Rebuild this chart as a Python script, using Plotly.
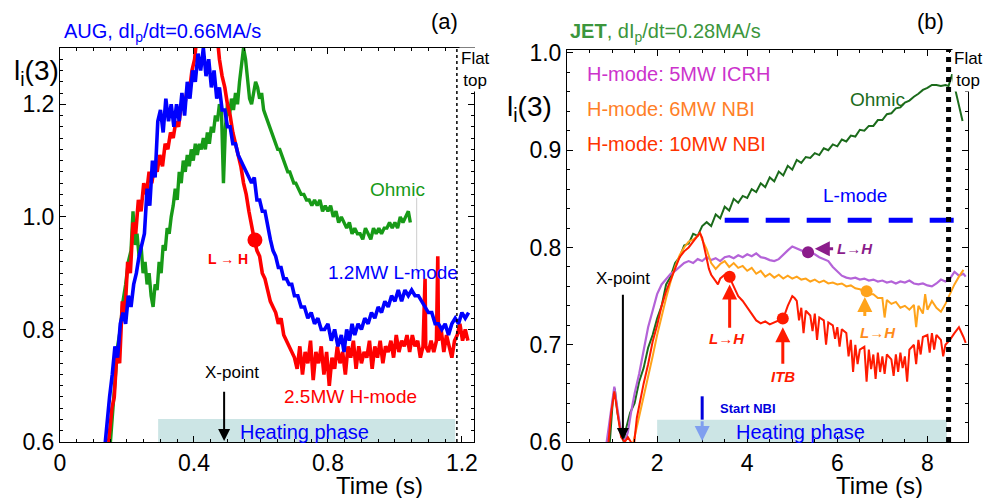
import plotly.graph_objects as go

# ---------------- Panel (a): AUG ----------------
aug_red_t = [0.140,0.145,0.155,0.162,0.170,0.178,0.186,0.194,0.202,0.210,0.218,0.226,0.234,0.242,0.250,0.258,0.266,0.274,0.282,0.290,0.298,0.306,0.314,0.322,0.330,0.338,0.346,0.354,0.362,0.370,0.378,0.386,0.394,0.402,0.410,0.440,0.468,0.476,0.484,0.492,0.500,0.508,0.516,0.524,0.532,0.540,0.548,0.556,0.564,0.572,0.580,0.588,0.596,0.604,0.612,0.620,0.628,0.636,0.644,0.652,0.660,0.668,0.676,0.684,0.692,0.700,0.708,0.716,0.724,0.732,0.740,0.748,0.756,0.764,0.772,0.780,0.788,0.796,0.804,0.812,0.820,0.828,0.836,0.844,0.852,0.860,0.868,0.876,0.884,0.892,0.900,0.908,0.916,0.924,0.932,0.940,0.948,0.956,0.964,0.972,0.980,0.988,0.996,1.004,1.012,1.020,1.028,1.036,1.044,1.052,1.060,1.068,1.076,1.084,1.090,1.092,1.100,1.108,1.116,1.124,1.128,1.130,1.138,1.146,1.154,1.162,1.170,1.178,1.186,1.194,1.202,1.210,1.218]
aug_red_v = [0.58,0.60,0.66,0.68,0.76,0.74,0.85,0.83,0.92,0.90,0.99,0.97,1.03,1.01,1.06,1.04,1.08,1.06,1.09,1.08,1.11,1.09,1.13,1.12,1.15,1.14,1.17,1.16,1.20,1.19,1.22,1.22,1.26,1.28,1.33,1.45,1.33,1.28,1.25,1.23,1.20,1.18,1.15,1.13,1.11,1.09,1.06,1.04,1.01,0.98,0.96,0.94,0.93,0.90,0.89,0.87,0.85,0.84,0.83,0.81,0.82,0.79,0.78,0.77,0.76,0.75,0.73,0.77,0.72,0.76,0.74,0.78,0.71,0.76,0.74,0.77,0.72,0.76,0.70,0.75,0.73,0.77,0.74,0.76,0.72,0.77,0.75,0.78,0.73,0.77,0.74,0.76,0.75,0.78,0.73,0.77,0.75,0.78,0.74,0.77,0.76,0.78,0.75,0.79,0.76,0.78,0.77,0.79,0.76,0.79,0.77,0.78,0.75,0.77,0.89,0.77,0.76,0.78,0.76,0.78,0.93,0.78,0.80,0.76,0.79,0.77,0.75,0.78,0.79,0.81,0.78,0.80,0.78]

aug_blue_t = [0.132,0.140,0.148,0.156,0.164,0.172,0.180,0.188,0.196,0.204,0.212,0.220,0.228,0.236,0.244,0.252,0.260,0.268,0.276,0.284,0.292,0.300,0.308,0.316,0.324,0.332,0.340,0.348,0.356,0.364,0.372,0.380,0.388,0.396,0.404,0.412,0.420,0.428,0.436,0.444,0.452,0.460,0.468,0.476,0.484,0.492,0.500,0.508,0.516,0.524,0.532,0.540,0.548,0.556,0.564,0.572,0.580,0.588,0.596,0.604,0.612,0.620,0.628,0.636,0.644,0.652,0.660,0.668,0.676,0.684,0.692,0.700,0.710,0.720,0.730,0.740,0.750,0.760,0.770,0.780,0.790,0.800,0.810,0.820,0.830,0.840,0.848,0.856,0.864,0.872,0.880,0.890,0.900,0.910,0.920,0.930,0.940,0.950,0.960,0.970,0.980,0.990,1.000,1.010,1.020,1.030,1.040,1.050,1.060,1.070,1.080,1.090,1.100,1.110,1.120,1.130,1.140,1.150,1.160,1.170,1.180,1.190,1.200,1.210,1.220]
aug_blue_v = [0.58,0.64,0.68,0.72,0.77,0.75,0.81,0.83,0.81,0.86,0.84,0.88,0.90,0.93,0.95,0.97,1.05,1.02,1.10,1.07,1.17,1.19,1.15,1.21,1.17,1.20,1.16,1.20,1.17,1.22,1.18,1.24,1.21,1.26,1.24,1.29,1.26,1.30,1.25,1.28,1.23,1.26,1.21,1.23,1.19,1.19,1.16,1.16,1.13,1.13,1.11,1.10,1.09,1.08,1.07,1.06,1.07,1.03,1.03,1.01,1.01,0.98,0.96,0.94,0.93,0.91,0.91,0.89,0.89,0.88,0.88,0.86,0.86,0.84,0.84,0.82,0.83,0.81,0.82,0.80,0.80,0.81,0.78,0.80,0.77,0.79,0.76,0.80,0.78,0.81,0.79,0.81,0.80,0.82,0.81,0.83,0.82,0.84,0.83,0.85,0.84,0.86,0.85,0.87,0.85,0.87,0.86,0.87,0.86,0.86,0.85,0.84,0.83,0.83,0.81,0.81,0.80,0.81,0.79,0.81,0.82,0.81,0.83,0.82,0.83]

aug_green_t = [0.148,0.156,0.164,0.172,0.180,0.188,0.196,0.204,0.212,0.218,0.224,0.230,0.236,0.242,0.248,0.254,0.260,0.266,0.272,0.278,0.284,0.290,0.296,0.302,0.308,0.314,0.320,0.326,0.332,0.338,0.344,0.350,0.356,0.362,0.368,0.374,0.380,0.386,0.392,0.398,0.404,0.410,0.416,0.422,0.428,0.434,0.440,0.446,0.452,0.458,0.464,0.470,0.476,0.482,0.488,0.494,0.500,0.506,0.512,0.518,0.524,0.530,0.536,0.542,0.548,0.554,0.560,0.566,0.572,0.578,0.584,0.590,0.596,0.602,0.608,0.614,0.620,0.626,0.632,0.638,0.644,0.650,0.656,0.662,0.668,0.674,0.680,0.686,0.692,0.698,0.704,0.712,0.720,0.728,0.736,0.744,0.752,0.760,0.768,0.776,0.784,0.792,0.800,0.808,0.816,0.824,0.832,0.840,0.848,0.856,0.864,0.872,0.880,0.888,0.896,0.904,0.912,0.920,0.928,0.936,0.944,0.952,0.960,0.968,0.976,0.984,0.992,1.000,1.008,1.016,1.024,1.032,1.040,1.046]
aug_green_v = [0.58,0.65,0.71,0.77,0.80,0.85,0.88,0.92,0.94,1.01,0.95,0.97,0.93,0.95,0.90,0.92,0.88,0.90,0.86,0.84,0.88,0.87,0.92,0.90,0.95,0.94,0.98,0.97,1.00,1.02,1.05,1.03,1.08,1.06,1.10,1.08,1.11,1.09,1.12,1.10,1.13,1.11,1.13,1.12,1.14,1.12,1.15,1.13,1.16,1.15,1.18,1.17,1.20,1.19,1.06,1.16,1.20,1.18,1.21,1.19,1.22,1.20,1.24,1.27,1.30,1.28,1.24,1.21,1.20,1.22,1.24,1.23,1.21,1.22,1.19,1.18,1.17,1.16,1.15,1.14,1.13,1.12,1.12,1.11,1.10,1.09,1.08,1.08,1.07,1.06,1.06,1.05,1.04,1.04,1.03,1.03,1.02,1.03,1.02,1.03,1.01,1.02,1.01,1.02,1.00,1.01,0.99,1.00,0.99,0.98,0.99,0.97,0.98,0.97,0.97,0.96,0.98,0.97,0.96,0.98,0.97,0.98,0.97,0.98,0.98,0.99,0.98,0.99,0.98,1.00,0.99,1.00,1.01,0.99]

aug_lh_t = [0.582]
aug_lh_v = [0.959]
aug_flat_top_t = 1.185
aug_heating = [0.293, 1.18]
aug_xpoint_t = 0.49

# ---------------- Panel (b): JET ----------------
jet_green_t = [0.95,1.02,1.06,1.12,1.20,1.26,1.30,1.40,1.50,1.60,1.70,1.80,1.90,2.00,2.10,2.20,2.30,2.40,2.50,2.60,2.70,2.80,2.90,3.00,3.10,3.20,3.30,3.40,3.50,3.60,3.70,3.80,3.90,4.00,4.10,4.20,4.30,4.40,4.50,4.60,4.70,4.80,4.90,5.00,5.10,5.20,5.30,5.40,5.50,5.60,5.70,5.80,5.90,6.00,6.10,6.20,6.30,6.40,6.50,6.60,6.70,6.80,6.90,7.00,7.10,7.20,7.30,7.40,7.50,7.60,7.70,7.80,7.90,8.00,8.10,8.20,8.30,8.40,8.47,8.55,8.62,8.70,8.78]
jet_green_v = [0.600,0.645,0.655,0.630,0.610,0.600,0.612,0.630,0.640,0.662,0.676,0.697,0.710,0.727,0.740,0.762,0.770,0.784,0.790,0.802,0.804,0.814,0.812,0.822,0.826,0.822,0.834,0.830,0.842,0.838,0.850,0.846,0.853,0.851,0.860,0.857,0.866,0.862,0.872,0.868,0.878,0.874,0.884,0.880,0.890,0.887,0.893,0.892,0.897,0.895,0.902,0.900,0.906,0.904,0.911,0.909,0.915,0.914,0.921,0.920,0.925,0.925,0.931,0.931,0.937,0.938,0.943,0.944,0.949,0.951,0.955,0.958,0.962,0.964,0.967,0.967,0.966,0.967,0.966,0.978,0.962,0.945,0.930]

jet_purple_t = [0.88,0.95,1.00,1.05,1.10,1.15,1.20,1.28,1.35,1.42,1.50,1.60,1.70,1.80,1.90,2.00,2.10,2.20,2.30,2.40,2.50,2.60,2.70,2.80,2.90,3.00,3.10,3.20,3.30,3.40,3.50,3.60,3.70,3.80,3.90,4.00,4.10,4.20,4.30,4.40,4.50,4.60,4.70,4.80,4.90,5.00,5.10,5.20,5.30,5.40,5.50,5.60,5.70,5.80,5.90,6.00,6.10,6.20,6.30,6.40,6.50,6.60,6.70,6.80,6.90,7.00,7.10,7.20,7.30,7.40,7.50,7.60,7.70,7.80,7.90,8.00,8.10,8.20,8.30,8.40,8.50,8.60,8.70,8.80,8.85]
jet_purple_v = [0.600,0.625,0.645,0.657,0.640,0.625,0.610,0.600,0.610,0.630,0.650,0.670,0.695,0.718,0.735,0.752,0.762,0.768,0.773,0.776,0.780,0.784,0.786,0.784,0.788,0.786,0.790,0.787,0.789,0.786,0.790,0.791,0.789,0.792,0.790,0.793,0.791,0.794,0.790,0.789,0.787,0.786,0.788,0.793,0.797,0.801,0.799,0.797,0.795,0.794,0.793,0.790,0.788,0.786,0.780,0.775,0.771,0.769,0.768,0.769,0.767,0.768,0.766,0.767,0.765,0.766,0.764,0.765,0.763,0.765,0.764,0.766,0.763,0.762,0.763,0.761,0.760,0.763,0.767,0.765,0.768,0.775,0.771,0.773,0.770]

jet_orange_t = [1.45,1.50,1.60,1.70,1.80,1.90,2.00,2.10,2.20,2.30,2.40,2.50,2.60,2.70,2.80,2.90,2.95,3.00,3.10,3.20,3.30,3.40,3.50,3.60,3.70,3.80,3.90,4.00,4.10,4.20,4.30,4.40,4.50,4.60,4.70,4.80,4.90,5.00,5.10,5.20,5.30,5.40,5.50,5.60,5.70,5.80,5.90,6.00,6.10,6.20,6.30,6.40,6.50,6.60,6.70,6.80,6.90,7.00,7.05,7.10,7.20,7.30,7.40,7.50,7.60,7.70,7.75,7.80,7.90,7.95,8.00,8.10,8.20,8.30,8.40,8.50,8.60,8.70,8.80]
jet_orange_v = [0.595,0.605,0.625,0.648,0.668,0.688,0.710,0.730,0.748,0.765,0.780,0.792,0.800,0.806,0.808,0.812,0.815,0.808,0.798,0.784,0.778,0.783,0.786,0.780,0.784,0.779,0.781,0.776,0.779,0.773,0.776,0.770,0.773,0.769,0.772,0.768,0.771,0.768,0.770,0.767,0.768,0.765,0.767,0.764,0.766,0.763,0.764,0.762,0.763,0.760,0.761,0.758,0.757,0.755,0.752,0.752,0.748,0.748,0.728,0.746,0.742,0.744,0.738,0.740,0.736,0.741,0.718,0.740,0.732,0.752,0.736,0.745,0.738,0.734,0.742,0.752,0.762,0.770,0.777]

jet_red_t = [0.92,0.98,1.05,1.10,1.15,1.20,1.28,1.35,1.42,1.47,1.55,1.62,1.70,1.80,1.90,2.00,2.10,2.20,2.30,2.40,2.50,2.60,2.70,2.80,2.90,2.95,3.00,3.05,3.10,3.15,3.20,3.30,3.35,3.40,3.50,3.60,3.70,3.80,3.90,4.00,4.10,4.20,4.30,4.40,4.50,4.60,4.70,4.80,4.90,5.00,5.05,5.10,5.15,5.20,5.25,5.30,5.40,5.45,5.50,5.55,5.60,5.70,5.75,5.80,5.90,5.95,6.00,6.05,6.10,6.20,6.25,6.30,6.35,6.40,6.45,6.50,6.60,6.65,6.70,6.75,6.80,6.85,6.90,6.95,7.00,7.05,7.10,7.20,7.25,7.30,7.35,7.40,7.45,7.50,7.55,7.60,7.70,7.75,7.80,7.85,7.90,8.00,8.05,8.10,8.15,8.20,8.30,8.35,8.40,8.50,8.60,8.70,8.80,8.85]
jet_red_v = [0.600,0.630,0.652,0.635,0.620,0.605,0.600,0.605,0.600,0.590,0.625,0.643,0.660,0.680,0.703,0.720,0.740,0.755,0.767,0.780,0.790,0.796,0.800,0.806,0.812,0.815,0.810,0.800,0.790,0.778,0.772,0.765,0.762,0.768,0.772,0.770,0.760,0.750,0.745,0.738,0.732,0.725,0.722,0.724,0.721,0.723,0.725,0.727,0.740,0.750,0.748,0.745,0.725,0.738,0.712,0.735,0.730,0.714,0.732,0.705,0.728,0.725,0.700,0.723,0.720,0.706,0.718,0.698,0.716,0.712,0.688,0.705,0.672,0.700,0.680,0.695,0.698,0.662,0.695,0.675,0.690,0.665,0.692,0.672,0.688,0.670,0.690,0.685,0.668,0.690,0.672,0.692,0.676,0.688,0.662,0.695,0.700,0.680,0.705,0.690,0.708,0.710,0.692,0.712,0.695,0.710,0.705,0.688,0.700,0.705,0.712,0.718,0.708,0.702]

jet_red_lh = (3.61, 0.770)
jet_red_itb = (4.79, 0.727)
jet_orange_lh = (6.65, 0.755)
jet_purple_lh = (5.35, 0.795)
jet_flat_top_t = 8.47
jet_heating = [2.0, 8.43]
jet_xpoint_t = 1.24
jet_start_nbi_t = 3.0
jet_lmode_level = 0.828
jet_lmode_span = [3.50, 8.65]

legend_labels = ["H-mode: 5MW ICRH", "H-mode: 6MW NBI", "H-mode: 10MW NBI"]
legend_colors = ["#cc33cc", "#ff7f27", "#ff3300"]
legend_y = [0.978, 0.942, 0.906]

FONT = "Liberation Sans, Arial, sans-serif"
RED = "#ff0000"
BLUE = "#0000ff"
GREEN_A = "#179a17"
GREEN_B = "#1b6b1b"
PURPLE = "#b463d8"
ORANGE = "#ffa31a"
RED_B = "#ff1a00"
TEAL = "#cce5e5"

fig = go.Figure()

fig.add_shape(type="rect", xref="x", yref="y", x0=aug_heating[0], x1=aug_heating[1], y0=0.6, y1=0.641,
              fillcolor=TEAL, line=dict(width=0), layer="below")
fig.add_shape(type="rect", xref="x2", yref="y2", x0=jet_heating[0], x1=jet_heating[1], y0=0.6, y1=0.623,
              fillcolor=TEAL, line=dict(width=0), layer="below")

fig.add_trace(go.Scatter(x=aug_green_t, y=aug_green_v, mode="lines", line=dict(color=GREEN_A, width=3.4), xaxis="x", yaxis="y"))
fig.add_trace(go.Scatter(x=aug_red_t, y=aug_red_v, mode="lines", line=dict(color=RED, width=3.6), xaxis="x", yaxis="y"))
fig.add_trace(go.Scatter(x=aug_blue_t, y=aug_blue_v, mode="lines", line=dict(color=BLUE, width=3.6), xaxis="x", yaxis="y"))
fig.add_trace(go.Scatter(x=aug_lh_t, y=aug_lh_v, mode="markers", marker=dict(color=RED, size=15), xaxis="x", yaxis="y"))

fig.add_trace(go.Scatter(x=jet_green_t, y=jet_green_v, mode="lines", line=dict(color=GREEN_B, width=2), xaxis="x2", yaxis="y2"))
fig.add_trace(go.Scatter(x=jet_purple_t, y=jet_purple_v, mode="lines", line=dict(color=PURPLE, width=2.2), xaxis="x2", yaxis="y2"))
fig.add_trace(go.Scatter(x=jet_orange_t, y=jet_orange_v, mode="lines", line=dict(color=ORANGE, width=2), xaxis="x2", yaxis="y2"))
fig.add_trace(go.Scatter(x=jet_red_t, y=jet_red_v, mode="lines", line=dict(color=RED_B, width=2), xaxis="x2", yaxis="y2"))
fig.add_trace(go.Scatter(x=[jet_red_lh[0], jet_red_itb[0]], y=[jet_red_lh[1], jet_red_itb[1]], mode="markers",
                         marker=dict(color=RED_B, size=12), xaxis="x2", yaxis="y2"))
fig.add_trace(go.Scatter(x=[jet_orange_lh[0]], y=[jet_orange_lh[1]], mode="markers",
                         marker=dict(color=ORANGE, size=12), xaxis="x2", yaxis="y2"))
fig.add_trace(go.Scatter(x=[jet_purple_lh[0]], y=[jet_purple_lh[1]], mode="markers",
                         marker=dict(color="#8b1c8b", size=12), xaxis="x2", yaxis="y2"))

fig.add_trace(go.Scatter(x=jet_lmode_span, y=[jet_lmode_level, jet_lmode_level], mode="lines",
                         line=dict(color=BLUE, width=5, dash="24px,17px"), xaxis="x2", yaxis="y2"))

fig.add_shape(type="line", xref="x", yref="y", x0=aug_flat_top_t, x1=aug_flat_top_t, y0=0.6, y1=1.30,
              line=dict(color="black", width=1.5, dash="dot"))
fig.add_shape(type="line", xref="x2", yref="y2", x0=jet_flat_top_t, x1=jet_flat_top_t, y0=0.6, y1=1.003,
              line=dict(color="black", width=5, dash="5px,5px"))
fig.add_shape(type="line", xref="x", yref="y", x0=1.065, x1=1.065, y0=0.90, y1=1.034,
              line=dict(color="#cccccc", width=1))
fig.add_shape(type="line", xref="x2", yref="y2", x0=jet_start_nbi_t, x1=jet_start_nbi_t, y0=0.623, y1=0.647,
              line=dict(color="#0000dd", width=3))

ann = []
def txt(x, y, s, color, size, xref="x", yref="y", xanchor="center", bold=False, italic=False, bg=None, yanchor="middle"):
    if bold:
        s = "<b>" + s + "</b>"
    if italic:
        s = "<i>" + s + "</i>"
    d = dict(x=x, y=y, xref=xref, yref=yref, text=s, showarrow=False, xanchor=xanchor, yanchor=yanchor,
             font=dict(color=color, size=size, family=FONT))
    if bg:
        d["bgcolor"] = bg
    ann.append(d)

def arrow(x, y, ax, ay, color, width, xref="x", yref="y", size=1.0):
    ann.append(dict(x=x, y=y, ax=ax, ay=ay, xref=xref, yref=yref, axref=xref, ayref=yref, text="",
                    showarrow=True, arrowhead=2, arrowsize=size, arrowwidth=width, arrowcolor=color))

# panel a annotations
txt(0.0628, 0.934, "AUG, dI<sub>p</sub>/dt=0.66MA/s", BLUE, 20, xref="paper", yref="paper", xanchor="left")
txt(0.450, 0.956, "(a)", "black", 22, xref="paper", yref="paper")
txt(0.037, 0.855, "l<sub>i</sub>(3)", "black", 28, xref="paper", yref="paper")
txt(0.501, 0.925, "L \u2192 H", RED, 14, bold=True)
txt(1.009, 1.048, "Ohmic", GREEN_A, 19)
txt(0.994, 0.902, "1.2MW L-mode", BLUE, 19)
txt(0.866, 0.680, "2.5MW H-mode", RED, 19)
txt(0.513, 0.724, "X-point", "black", 17)
arrow(aug_xpoint_t, 0.602, aug_xpoint_t, 0.692, "black", 2, size=1.2)
txt(0.731, 0.618, "Heating phase", BLUE, 20)
txt(1.191, 1.261, "Flat<br>top", "black", 17, xanchor="left", bg="white")
txt(0.384, 0.026, "Time (s)", "black", 24, xref="paper", yref="paper")

# panel b annotations
txt(0.5755, 0.934, "<b>JET</b>, dI<sub>p</sub>/dt=0.28MA/s", "#3c963c", 20, xref="paper", yref="paper", xanchor="left")
txt(0.943, 0.956, "(b)", "black", 22, xref="paper", yref="paper")
txt(0.536, 0.783, "l<sub>i</sub>(3)", "black", 28, xref="paper", yref="paper")
for lab, col, ly in zip(legend_labels, legend_colors, legend_y):
    txt(0.40, ly, lab, col, 20, xref="x2", yref="y2", xanchor="left")
txt(6.90, 0.952, "Ohmic", GREEN_B, 19, xref="x2", yref="y2")
txt(6.39, 0.853, "L-mode", BLUE, 19, xref="x2", yref="y2")
txt(1.24, 0.768, "X-point", "black", 17, xref="x2", yref="y2")
arrow(jet_xpoint_t, 0.602, jet_xpoint_t, 0.753, "black", 2, xref="x2", yref="y2", size=1.2)
arrow(jet_red_lh[0], 0.762, jet_red_lh[0], 0.716, RED_B, 3, xref="x2", yref="y2", size=1.0)
txt(3.55, 0.706, "L\u2192H", RED_B, 15, xref="x2", yref="y2", bold=True, italic=True)
arrow(jet_red_itb[0], 0.718, jet_red_itb[0], 0.679, RED_B, 3, xref="x2", yref="y2", size=1.0)
txt(4.79, 0.667, "ITB", RED_B, 15, xref="x2", yref="y2", bold=True, italic=True)
arrow(6.61, 0.749, 6.61, 0.728, ORANGE, 3, xref="x2", yref="y2", size=1.0)
txt(6.90, 0.713, "L\u2192H", "#ff8c1a", 15, xref="x2", yref="y2", bold=True, italic=True)
arrow(5.50, 0.7986, 5.94, 0.7986, "#8b1c8b", 3, xref="x2", yref="y2", size=1.0)
txt(6.39, 0.7986, "L\u2192H", "#8b1c8b", 15, xref="x2", yref="y2", bold=True, italic=True)
txt(4.01, 0.634, "Start NBI", "#0000dd", 13, xref="x2", yref="y2", bold=True)
arrow(jet_start_nbi_t, 0.601, jet_start_nbi_t, 0.623, "#7f9fef", 3, xref="x2", yref="y2", size=1.0)
txt(5.19, 0.610, "Heating phase", BLUE, 20, xref="x2", yref="y2")
txt(8.54, 0.983, "Flat<br>top", "black", 17, xref="x2", yref="y2", xanchor="left", bg="white")
txt(0.891, 0.026, "Time (s)", "black", 24, xref="paper", yref="paper")

axis_common = dict(showline=True, linecolor="black", linewidth=1, mirror="allticks", ticks="inside",
                   ticklen=6, tickcolor="black", showgrid=False, zeroline=False, automargin=False,
                   tickfont=dict(family=FONT, size=23, color="black"))

fig.update_layout(
    template=go.layout.Template(),
    width=987, height=498, autosize=False, margin=dict(l=0, r=0, t=0, b=0, pad=0),
    paper_bgcolor="white", plot_bgcolor="white", showlegend=False,
    font=dict(family=FONT),
    annotations=ann,
    xaxis=dict(domain=[0.0608, 0.4802], range=[0, 1.236], tick0=0, dtick=0.4, anchor="y",
               minor=dict(dtick=0.05, ticks="inside", ticklen=3, tickcolor="black"), **axis_common),
    yaxis=dict(domain=[0.1124, 0.9036], range=[0.6, 1.30], tick0=0.6, dtick=0.2, tickformat=".1f", anchor="x",
               minor=dict(dtick=0.02, ticks="inside", ticklen=3, tickcolor="black"), **axis_common),
    xaxis2=dict(domain=[0.5745, 0.9807], range=[0, 8.9], tick0=0, dtick=2, anchor="y2",
                minor=dict(dtick=0.5, ticks="inside", ticklen=3, tickcolor="black"), **axis_common),
    yaxis2=dict(domain=[0.1124, 0.8996], range=[0.6, 1.003], tick0=0.6, dtick=0.1, tickformat=".1f", anchor="x2",
                minor=dict(dtick=0.02, ticks="inside", ticklen=3, tickcolor="black"), **axis_common),
)

fig.write_html("out.html", post_script="document.body.style.margin='0';document.body.style.overflow='hidden';")
